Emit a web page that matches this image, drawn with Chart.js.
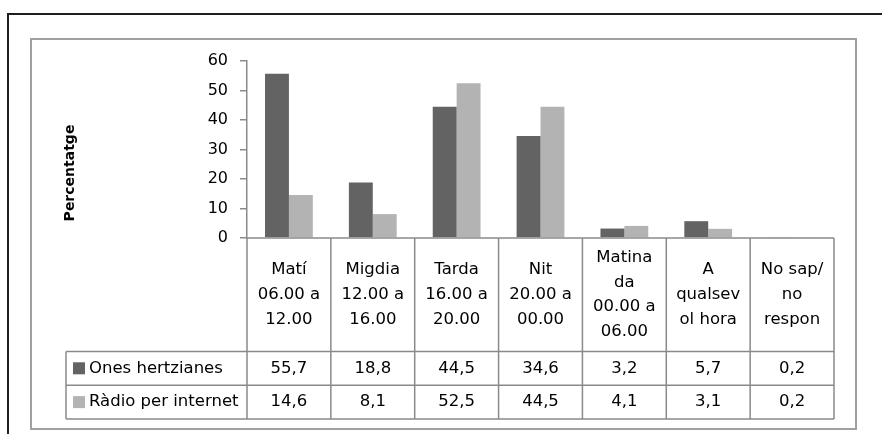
<!DOCTYPE html>
<html>
<head>
<meta charset="utf-8">
<script src="https://cdn.jsdelivr.net/npm/chart.js@4"></script>
<style>
  html, body { margin: 0; padding: 0; background: #fff; }
  #wrap { width: 882px; height: 434px; }
</style>
</head>
<body>
<div id="wrap"><canvas id="graph"></canvas></div>
<script>
const categories = [
  ['Matí', '06.00 a', '12.00'],
  ['Migdia', '12.00 a', '16.00'],
  ['Tarda', '16.00 a', '20.00'],
  ['Nit', '20.00 a', '00.00'],
  ['Matina', 'da', '00.00 a', '06.00'],
  ['A', 'qualsev', 'ol hora'],
  ['No sap/', 'no', 'respon']
];
const onesHertzianes = [55.7, 18.8, 44.5, 34.6, 3.2, 5.7, 0.2];
const radioInternet = [14.6, 8.1, 52.5, 44.5, 4.1, 3.1, 0.2];
const yTicks = [0, 10, 20, 30, 40, 50, 60];

const FONT = "'DejaVu Sans', sans-serif";
const lineGrey = '#8a8a8a';

// draws the frames, the axis title and the data table under the plot
const tablePlugin = {
  id: 'table',
  afterDraw(chart) {
    const ctx = chart.ctx;
    const area = chart.chartArea;
    const x = chart.scales.x;
    const n = categories.length;
    const colW = (area.right - area.left) / n;
    const top = area.bottom;
    const catBottom = top + 113.4;
    const rowH = 33.8;
    const tableLeft = 66;
    const rows = [
      { label: 'Ones hertziane' + 's', data: onesHertzianes, color: chart.data.datasets[0].backgroundColor },
      { label: 'Ràdio per internet', data: radioInternet, color: chart.data.datasets[1].backgroundColor }
    ];
    rows[0].label = chart.data.datasets[0].label;
    rows[1].label = chart.data.datasets[1].label;

    ctx.save();
    // outer frames
    ctx.strokeStyle = '#1e1e1e';
    ctx.lineWidth = 2;
    ctx.beginPath();
    ctx.moveTo(8, 434);
    ctx.lineTo(8, 14);
    ctx.lineTo(882, 14);
    ctx.stroke();
    ctx.strokeStyle = '#a0a0a0';
    ctx.strokeRect(31, 39, 825, 390);

    // table grid
    ctx.strokeStyle = lineGrey;
    ctx.lineWidth = 1.5;
    ctx.beginPath();
    ctx.moveTo(area.left, top);
    ctx.lineTo(area.right, top);
    for (let r = 0; r <= rows.length; r++) {
      const y = catBottom + r * rowH;
      ctx.moveTo(tableLeft, y);
      ctx.lineTo(area.right, y);
    }
    for (let i = 0; i <= n; i++) {
      const cx = area.left + i * colW;
      ctx.moveTo(cx, top);
      ctx.lineTo(cx, catBottom + rows.length * rowH);
    }
    ctx.moveTo(tableLeft, catBottom);
    ctx.lineTo(tableLeft, catBottom + rows.length * rowH);
    ctx.stroke();

    // category labels
    ctx.fillStyle = '#000';
    ctx.font = '16.5px ' + FONT;
    ctx.textAlign = 'center';
    ctx.textBaseline = 'middle';
    const lh = 24.6;
    const midCat = (top + catBottom) / 2;
    categories.forEach((lines, i) => {
      const cx = x.getPixelForValue(i);
      const y0 = midCat - (lines.length - 1) * lh / 2;
      lines.forEach((t, k) => ctx.fillText(t, cx, y0 + k * lh));
    });

    // series rows
    rows.forEach((row, r) => {
      const cy = catBottom + r * rowH + rowH / 2;
      ctx.fillStyle = row.color;
      ctx.fillRect(73, cy - 6, 12, 12);
      ctx.fillStyle = '#000';
      ctx.textAlign = 'left';
      ctx.fillText(row.label, 89, cy);
      ctx.textAlign = 'center';
      row.data.forEach((v, i) => {
        ctx.fillText(v.toFixed(1).replace('.', ','), x.getPixelForValue(i), cy);
      });
    });

    // axis title
    ctx.font = 'bold 14px ' + FONT;
    ctx.translate(70, 173);
    ctx.rotate(-Math.PI / 2);
    ctx.fillText('Percentatge', 0, 0);
    ctx.restore();
  }
};

const data = {
  labels: categories,
  datasets: [
    {
      label: 'Ones hertzianes',
      data: onesHertzianes,
      backgroundColor: '#636363'
    },
    {
      label: 'Ràdio per internet',
      data: radioInternet,
      backgroundColor: '#b3b3b3'
    }
  ]
};

const config = {
  type: 'bar',
  data: data,
  options: {
    responsive: true,
    maintainAspectRatio: false,
    animation: false,
    layout: { padding: { left: 187, right: 48, top: 61, bottom: 196 } },
    categoryPercentage: 0.57,
    barPercentage: 1.0,
    plugins: {
      legend: { display: false },
      tooltip: { enabled: false }
    },
    scales: {
      x: { display: false },
      y: {
        min: 0,
        max: 60,
        afterFit: s => { s.width = 60; },
        afterBuildTicks: s => { s.ticks = yTicks.map(v => ({ value: v })); },
        ticks: { color: '#000', padding: 12, font: { family: FONT, size: 16 } },
        grid: { drawOnChartArea: false, color: lineGrey, tickLength: 7, lineWidth: 1.5 },
        border: { color: lineGrey, width: 1.5 }
      }
    }
  },
  plugins: [tablePlugin]
};

const myChart = new Chart(document.getElementById('graph'), config);
</script>
</body>
</html>
